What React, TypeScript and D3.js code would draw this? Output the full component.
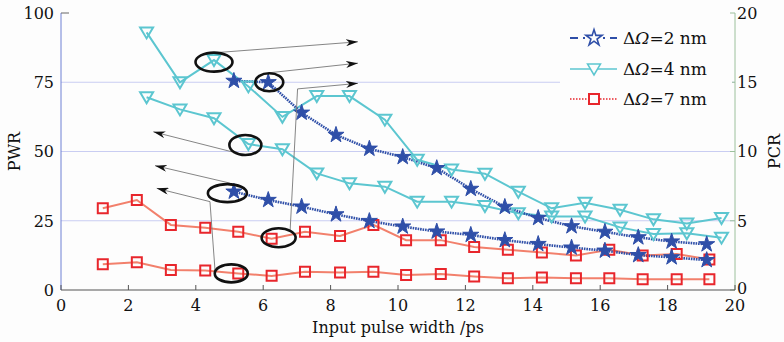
import * as d3 from 'd3';
import React from 'react';

// input pulse widths (ps) for each group of curves
const xRed = [1.24, 2.25, 3.26, 4.28, 5.26, 6.25, 7.24, 8.28, 9.27, 10.24, 11.27, 12.26, 13.26, 14.27, 15.28, 16.27, 17.26, 18.27, 19.24];
const xStar = [5.13, 6.15, 7.14, 8.16, 9.15, 10.14, 11.15, 12.16, 13.17, 14.16, 15.15, 16.14, 17.13, 18.12, 19.16];
const xCyan = [2.54, 3.53, 4.54, 5.56, 6.57, 7.59, 8.56, 9.61, 10.57, 11.59, 12.58, 13.57, 14.56, 15.55, 16.59, 17.58, 18.57, 19.6];

// PWR (left axis)
const pwr2 = [35.5, 32.5, 30.1, 27.3, 24.9, 22.9, 21.1, 19.9, 18.0, 16.6, 15.3, 14.2, 12.6, 11.8, 10.8];
const pwr4 = [69.6, 65.2, 62.0, 52.7, 50.8, 42.1, 38.5, 37.3, 31.9, 31.9, 30.3, 27.7, 26.5, 26.5, 22.6, 20.2, 20.5, 18.9];
const pwr7 = [9.3, 10.0, 7.2, 7.0, 6.0, 5.1, 6.6, 6.3, 6.6, 5.4, 5.8, 4.9, 4.2, 4.5, 4.2, 4.2, 3.9, 3.9, 3.9];

// PCR (right axis)
const pcr2 = [15.1, 15.0, 12.8, 11.2, 10.2, 9.6, 8.8, 7.3, 6.0, 5.2, 4.6, 4.2, 3.8, 3.5, 3.3];
const pcr4 = [18.6, 15.0, 16.6, 14.7, 12.5, 14.0, 14.0, 12.3, 9.4, 8.7, 8.4, 7.1, 5.9, 6.3, 5.8, 5.1, 4.8, 5.2];
const pcr7 = [5.9, 6.5, 4.7, 4.5, 4.2, 3.7, 4.2, 3.9, 4.7, 3.6, 3.6, 3.1, 2.9, 2.7, 2.5, 2.9, 2.5, 2.6, 2.2];

const xTicks = [0, 2, 4, 6, 8, 10, 12, 14, 16, 18, 20];
const leftTicks = [0, 25, 50, 75, 100];
const rightTicks = [0, 5, 10, 15, 20];
const legendLabels = ['2', '4', '7'];

const FONT = 'DejaVu Serif, serif';
const BLUE = '#2f4fa8';
const CYAN = '#5cc6d0';
const RED = '#e8262c';
const SALMON = '#f2806c';

const W = 784, H = 342;
const x = d3.scaleLinear().domain([0, 20]).range([61, 735]);
const yL = d3.scaleLinear().domain([0, 100]).range([290, 13]);
const yR = d3.scaleLinear().domain([0, 20]).range([290, 13]);

const starPath = d3.symbol().type(d3.symbolStar).size(80)()!;
const triPath = 'M-6.5,-5L6.5,-5L0,6Z';
const sqPath = 'M-5,-5H5V5H-5Z';

type Pt = [number, number];
const pts = (xs: number[], ys: number[], sy: d3.ScaleLinear<number, number>): Pt[] =>
  ys.map((v, i) => [x(xs[i]), sy(v)]);

const App = () => {
  const line = d3.line<Pt>();

  const red = [pts(xRed, pwr7, yL), pts(xRed, pcr7, yR)];
  const cyan = [pts(xCyan, pwr4, yL), pts(xCyan, pcr4, yR)];
  const star = [pts(xStar, pwr2, yL), pts(xStar, pcr2, yR)];

  // circled points: [points, index, dx, dy, rx, ry]
  const ellipses: [Pt[], number, number, number, number, number][] = [
    [cyan[1], 2, 0, 2, 18.5, 9.5],
    [star[1], 1, 1, 0, 14, 9],
    [cyan[0], 3, -3, 1, 16, 10],
    [star[0], 0, -6.5, 1.5, 19.5, 9],
    [red[1], 5, 7, -1, 17, 9.5],
    [red[0], 4, -7, 0, 16.5, 9],
  ];

  // pointer lines, in (ps, PWR) units
  const arrows: [number, number][][] = [
    [[4.51, 85.6], [8.81, 89.6]],
    [[6.16, 78.4], [8.81, 81.9]],
    [[6.8, 21.7], [7.02, 72.6], [8.81, 74.6]],
    [[5.07, 49.9], [2.74, 57.1]],
    [[5.01, 38.6], [2.79, 44.9]],
    [[4.57, 7.2], [4.42, 31.9], [2.84, 36.7]],
  ];

  const legendY = [38, 69, 99];

  return (
    <svg width={W} height={H} style={{ position: 'absolute', left: 0, top: 0, background: '#fdfdfd' }}>
      <defs>
        <marker id="ah" viewBox="0 0 12 7" refX="12" refY="3.5" markerWidth="12" markerHeight="7"
          markerUnits="userSpaceOnUse" orient="auto">
          <path d="M0,0L12,3.5L0,7L3.5,3.5Z" fill="#111" />
        </marker>
      </defs>

      {/* grid */}
      {leftTicks.filter(t => t > 0 && t < 100).map(t => (
        <line key={t} x1={x(0)} x2={x(20)} y1={yL(t)} y2={yL(t)} stroke="#c9cdf2" strokeWidth={1} />
      ))}

      {/* axes */}
      <line x1={x(0)} x2={x(0)} y1={yL(0)} y2={yL(100)} stroke="#6f80d4" strokeWidth={1} />
      <line x1={x(0)} x2={x(0) + 8} y1={yL(100)} y2={yL(100)} stroke="#666" strokeWidth={1} />
      <line x1={x(20)} x2={x(20)} y1={yR(0)} y2={yR(20)} stroke="#9cc09c" strokeWidth={1} />
      {rightTicks.map(t => (
        <line key={t} x1={x(20) - 5} x2={x(20)} y1={yR(t)} y2={yR(t)} stroke="#9cc09c" strokeWidth={1} />
      ))}
      <line x1={x(0)} x2={x(20)} y1={yL(0)} y2={yL(0)} stroke="#555" strokeWidth={1.2} />
      {xTicks.map(t => (
        <line key={t} x1={x(t)} x2={x(t)} y1={yL(0)} y2={yL(0) - 5} stroke="#555" strokeWidth={1} />
      ))}

      {/* tick labels */}
      <g fontFamily={FONT} fontSize={16} fill="#111">
        {xTicks.map(t => (
          <text key={t} x={x(t)} y={311} textAnchor="middle">{t}</text>
        ))}
        {leftTicks.map(t => (
          <text key={t} x={54} y={yL(t)} dy="0.36em" textAnchor="end">{t}</text>
        ))}
        {rightTicks.map(t => (
          <text key={t} x={737} y={yR(t) - (t === 0 ? 2 : 0)} dy="0.36em" textAnchor="start">{t}</text>
        ))}
        <text x={398} y={333} textAnchor="middle">Input pulse width /ps</text>
        <text transform={`translate(20,${yL(50)}) rotate(-90)`} textAnchor="middle">PWR</text>
        <text transform={`translate(780,${yL(50)}) rotate(-90)`} textAnchor="middle">PCR</text>
      </g>

      {/* series lines */}
      {red.map((p, i) => <path key={'r' + i} d={line(p)!} fill="none" stroke={SALMON} strokeWidth={2} />)}
      {cyan.map((p, i) => <path key={'c' + i} d={line(p)!} fill="none" stroke={CYAN} strokeWidth={2} />)}
      {star.map((p, i) => (
        <path key={'s' + i} d={line(p)!} fill="none" stroke={BLUE} strokeWidth={2.6} strokeDasharray="1.6,0.9" />
      ))}

      {/* markers */}
      {red.flat().map((p, i) => (
        <path key={'rm' + i} d={sqPath} transform={`translate(${p[0]},${p[1]})`} fill="none" stroke={RED} strokeWidth={2} />
      ))}
      {cyan.flat().map((p, i) => (
        <path key={'cm' + i} d={triPath} transform={`translate(${p[0]},${p[1]})`} fill="none" stroke={CYAN} strokeWidth={2} />
      ))}
      {star.flat().map((p, i) => (
        <path key={'sm' + i} d={starPath} transform={`translate(${p[0]},${p[1]})`} fill={BLUE} stroke={BLUE} strokeWidth={1} />
      ))}

      {/* annotations */}
      {arrows.map((a, i) => (
        <polyline key={'a' + i} points={a.map(d => `${x(d[0])},${yL(d[1])}`).join(' ')}
          fill="none" stroke="#777" strokeWidth={0.9} markerEnd="url(#ah)" />
      ))}
      {ellipses.map(([p, idx, dx, dy, rx, ry], i) => (
        <ellipse key={'e' + i} cx={p[idx][0] + dx} cy={p[idx][1] + dy} rx={rx} ry={ry}
          fill="none" stroke="#111" strokeWidth={2.6} />
      ))}

      {/* legend */}
      <rect x={560} y={20} width={172} height={94} fill="#fdfdfd" />
      {legendLabels.map((lab, i) => {
        const ly = legendY[i];
        return (
          <g key={lab}>
            {i === 0 && <>
              <line x1={570} x2={617} y1={ly} y2={ly} stroke={BLUE} strokeWidth={1.8} strokeDasharray="8,5,2,5" />
              <path d={starPath} transform={`translate(594,${ly})`} fill="#fdfdfd" stroke={BLUE} strokeWidth={1.6} />
            </>}
            {i === 1 && <>
              <line x1={570} x2={617} y1={ly} y2={ly} stroke={CYAN} strokeWidth={1.5} />
              <path d={triPath} transform={`translate(594,${ly})`} fill="#fdfdfd" stroke={CYAN} strokeWidth={1.5} />
            </>}
            {i === 2 && <>
              <line x1={570} x2={617} y1={ly} y2={ly} stroke={RED} strokeWidth={1.5} strokeDasharray="1.5,1.5" />
              <path d={sqPath} transform={`translate(594,${ly})`} fill="#fdfdfd" stroke={RED} strokeWidth={2} />
            </>}
            <text x={623} y={ly} dy="0.36em" fontFamily={FONT} fontSize={17} fill="#111">
              Δ<tspan fontStyle="italic">Ω</tspan>={lab} nm
            </text>
          </g>
        );
      })}
    </svg>
  );
};

export default App;
